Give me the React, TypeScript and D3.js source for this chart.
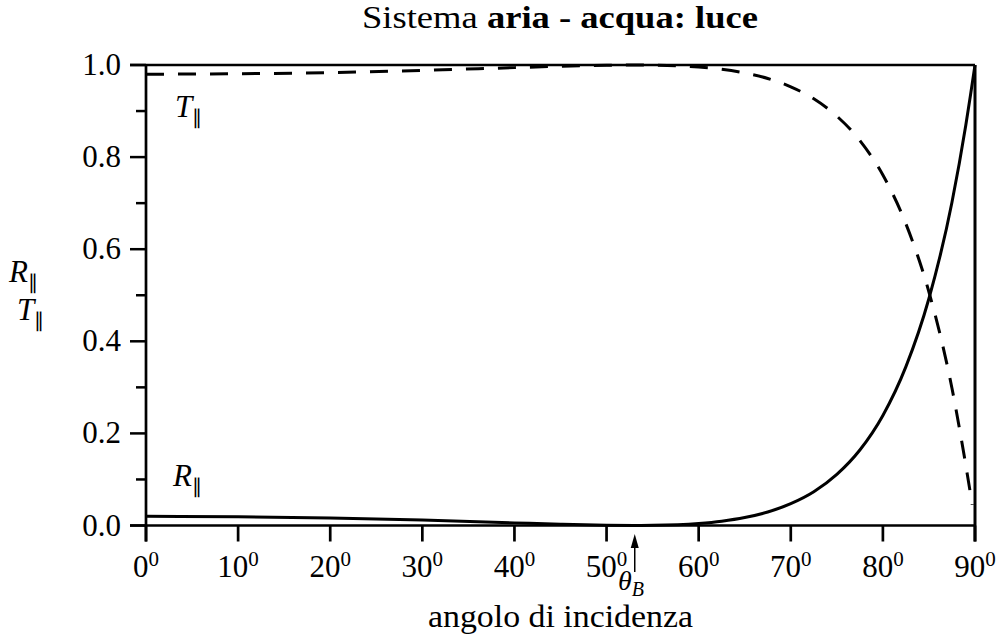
import React from "react";
import * as d3 from "d3";

const angles = [0, 10, 20, 30, 40, 45, 50, 53, 55, 60, 62.5, 65, 67.5, 70, 72.5, 75, 77.5, 80, 82.5, 85, 87.5, 89, 89.5, 90];
const rPar = [0.020, 0.019, 0.0164, 0.0117, 0.0057, 0.0027, 0.0005, 0.0, 0.0003, 0.0044, 0.0093, 0.0172, 0.0293, 0.0474, 0.0733, 0.111, 0.164, 0.239, 0.345, 0.493, 0.702, 0.869, 0.933, 1.0];
const tAngles = [0, 10, 20, 30, 40, 45, 50, 53, 55, 60, 62.5, 65, 67.5, 70, 72.5, 75, 77.5, 80, 82.5, 85, 87.5, 89, 89.7];
const tPar = [0.980, 0.981, 0.9836, 0.9883, 0.9943, 0.9973, 0.9995, 1.0, 0.9997, 0.9956, 0.9907, 0.9828, 0.9707, 0.9526, 0.9267, 0.889, 0.836, 0.761, 0.655, 0.507, 0.298, 0.131, 0.045];
const xTicks = [0, 10, 20, 30, 40, 50, 60, 70, 80, 90];
const yMajor = [0, 0.2, 0.4, 0.6, 0.8, 1.0];
const yMinor = [0.1, 0.3, 0.5, 0.7, 0.9];
const brewster = 53.06;

const FONT = "'Liberation Serif', 'Times New Roman', serif";

export default function App() {
  const x = d3.scaleLinear().domain([0, 90]).range([146, 975]);
  const y = d3.scaleLinear().domain([0, 1]).range([525.5, 65]);
  const x0 = x(0), x1 = x(90), y0 = y(0), y1 = y(1);

  const rLine = d3.line<number>()
    .x((_, i) => x(angles[i]))
    .y((d) => y(d))
    .curve(d3.curveMonotoneX)(rPar) as string;
  const tLine = d3.line<number>()
    .x((_, i) => x(tAngles[i]))
    .y((d) => y(d))
    .curve(d3.curveMonotoneX)(tPar) as string;

  const bx = x(brewster);

  return (
    <svg width={998} height={639} style={{ position: "absolute", left: 0, top: 0, background: "#fff" }} fontFamily={FONT}>
      <rect x={0} y={0} width={998} height={639} fill="#fff" />
      {/* title */}
      <text x={362} y={28} fontSize={31} textLength={396} lengthAdjust="spacingAndGlyphs">
        Sistema <tspan fontWeight="bold">aria - acqua:  luce</tspan>
      </text>

      {/* curves */}
      <path d={tLine} fill="none" stroke="#000" strokeWidth={3} strokeDasharray="18 14" />
      <path d={rLine} fill="none" stroke="#000" strokeWidth={3} />

      {/* frame */}
      <line x1={x0 - 16} x2={x1} y1={y1} y2={y1} stroke="#000" strokeWidth={2.5} />
      <line x1={x0 - 16} x2={x1} y1={y0} y2={y0} stroke="#000" strokeWidth={2.5} />
      <line x1={x0} x2={x0} y1={y1} y2={y0 + 16} stroke="#000" strokeWidth={2.7} />
      <line x1={x1} x2={x1} y1={y1} y2={y0 + 16} stroke="#000" strokeWidth={3} />

      {/* y ticks */}
      {yMajor.map((v) => (
        <g key={"ym" + v}>
          <line x1={x0 - 16} x2={x0} y1={y(v)} y2={y(v)} stroke="#000" strokeWidth={2.5} />
          <text x={121} y={y(v) + 10} textAnchor="end" fontSize={31}>{v.toFixed(1)}</text>
        </g>
      ))}
      {yMinor.map((v) => (
        <line key={"yn" + v} x1={x0 - 10} x2={x0} y1={y(v)} y2={y(v)} stroke="#000" strokeWidth={2.5} />
      ))}

      {/* x ticks */}
      {xTicks.map((v) => (
        <g key={"x" + v}>
          <line x1={x(v)} x2={x(v)} y1={y0} y2={y0 + 16} stroke="#000" strokeWidth={2.7} />
          <text x={x(v)} y={577} textAnchor="middle" fontSize={31}>
            {v}
            <tspan dy={-11} fontSize={21}>0</tspan>
          </text>
        </g>
      ))}

      {/* Brewster arrow */}
      <line x1={bx} x2={bx} y1={572} y2={546} stroke="#000" strokeWidth={1.5} />
      <path d={`M${bx},${534} L${bx - 4},${548} L${bx + 4},${548} Z`} fill="#000" />
      <text x={618} y={590} fontSize={28} fontStyle="italic">
        θ<tspan dy={6} fontSize={20}>B</tspan>
      </text>

      {/* axis labels */}
      <text x={428} y={627} fontSize={31} textLength={265} lengthAdjust="spacingAndGlyphs">angolo di incidenza</text>
      <text x={9} y={282} fontSize={31} fontStyle="italic">
        R<tspan dy={7} fontSize={20} fontStyle="normal">∥</tspan>
      </text>
      <text x={17} y={320} fontSize={31} fontStyle="italic">
        T<tspan dy={7} fontSize={20} fontStyle="normal">∥</tspan>
      </text>

      {/* curve labels */}
      <text x={175} y={117} fontSize={31} fontStyle="italic">
        T<tspan dy={7} fontSize={20} fontStyle="normal">∥</tspan>
      </text>
      <text x={173} y={486} fontSize={31} fontStyle="italic">
        R<tspan dy={7} fontSize={20} fontStyle="normal">∥</tspan>
      </text>
    </svg>
  );
}
